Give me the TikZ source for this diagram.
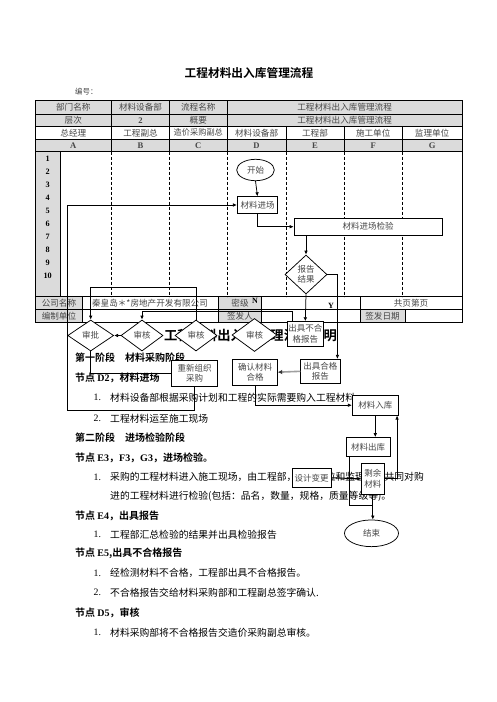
\documentclass[tikz,border=0pt]{standalone}
\usepackage{fontspec}
\setmainfont{Noto Sans CJK SC}[BoldFont={Noto Sans CJK SC Bold}]
\newfontfamily\lat{Liberation Serif}
\usetikzlibrary{shapes.geometric,arrows.meta,calc}
\definecolor{cellgray}{gray}{0.86}
\definecolor{txtgray}{gray}{0.28}
\begin{document}
\begin{tikzpicture}[x=1pt,y=-1pt,
  grid/.style={line width=0.6pt},
  lane/.style={line width=0.6pt,dash pattern=on 3pt off 2pt},
  ttxt/.style={inner sep=0,font=\fontsize{8.6}{9}\selectfont,text=txtgray},
  ftxt/.style={font=\fontsize{8.5}{10.5}\selectfont,text=txtgray},
  fbox/.style={draw,fill=white,line width=0.75pt,inner sep=0,align=center,ftxt},
  fdia/.style={diamond,draw,fill=white,line width=0.75pt,inner sep=0,align=center,ftxt},
  fell/.style={ellipse,draw,fill=white,line width=0.75pt,inner sep=0,ftxt},
  conn/.style={line width=0.75pt},
  arr/.style={conn,-{Latex[length=4pt,width=3.6pt]}},
  body/.style={anchor=west,inner sep=0,font=\fontsize{9.8}{10}\selectfont},
  head/.style={anchor=west,inner sep=0,font=\bfseries\fontsize{10}{11}\selectfont},
  num/.style={anchor=west,inner sep=0,font=\lat\fontsize{9.8}{10}\selectfont}]
\useasboundingbox (0,0) rectangle (496,702);
\fill[white] (0,0) rectangle (496,702);

% title
\node[inner sep=0,font=\bfseries\fontsize{11.7}{12}\selectfont] (title) at (249,73) {工程材料出入库管理流程};
\node[anchor=west,inner sep=0,font=\fontsize{7.5}{8}\selectfont,text=txtgray] (bh) at (75,92) {编号：};

% header table fills
\fill[cellgray] (35,100.7) rectangle (462,126.7);
\fill[cellgray] (35,139) rectangle (462,151.7);
\fill[cellgray] (35,151.7) rectangle (60.7,296.7);
% bottom table fills
\fill[cellgray] (35,296.7) rectangle (82.7,322.3);
\fill[cellgray] (218.3,296.7) rectangle (261.7,322.3);
\fill[cellgray] (360,309.5) rectangle (405,322.3);

% header grid
\draw[grid] (35,100.7) rectangle (462,322.3);
\foreach \yy in {114.3,126.7,139,151.7,296.7,309.5} \draw[grid] (35,\yy) -- (462,\yy);
\foreach \xx in {111.7,169.3,227.3} \draw[grid] (\xx,100.7) -- (\xx,151.7);
\foreach \xx in {286,344,402.3} \draw[grid] (\xx,126.7) -- (\xx,151.7);
\draw[grid] (60.7,151.7) -- (60.7,296.7);
\foreach \xx in {111.7,169.3,227.3,286,344,402.3} \draw[lane] (\xx,151.7) -- (\xx,296.7);
% bottom grid
\foreach \xx in {82.7,218.3,261.7,360} \draw[grid] (\xx,296.7) -- (\xx,322.3);
\draw[grid] (405,309.5) -- (405,322.3);

% header texts
\node[ttxt] (h11) at (73.3,107.5) {部门名称};
\node[ttxt] (h12) at (140.5,107.5) {材料设备部};
\node[ttxt] (h13) at (198.3,107.5) {流程名称};
\node[ttxt] (h14) at (344.6,107.5) {工程材料出入库管理流程};
\node[ttxt] (h21) at (73.3,120.5) {层次};
\node[ttxt,font=\lat\bfseries\fontsize{8.6}{9}\selectfont] (h22) at (140.5,120.5) {2};
\node[ttxt] (h23) at (198.3,120.5) {概要};
\node[ttxt] (h24) at (344.6,120.5) {工程材料出入库管理流程};
\node[ttxt] (h31) at (73.3,132.8) {总经理};
\node[ttxt] (h32) at (140.5,132.8) {工程副总};
\node[ttxt,font=\fontsize{8.2}{9}\selectfont] (h33) at (198.3,132.8) {造价采购副总};
\node[ttxt] (h34) at (256.6,132.8) {材料设备部};
\node[ttxt] (h35) at (315,132.8) {工程部};
\node[ttxt] (h36) at (373.2,132.8) {施工单位};
\node[ttxt] (h37) at (432.1,132.8) {监理单位};
\foreach \xx/\ll in {73.3/A,140.5/B,198.3/C,256.6/D,315/E,373.2/F,432.1/G}
  \node[ttxt,font=\lat\bfseries\fontsize{8.6}{9}\selectfont] (col\ll) at (\xx,145.3) {\ll};
\foreach \i in {1,...,10}
  \node[ttxt,text=black,font=\lat\bfseries\fontsize{8.2}{9}\selectfont] (r\i) at (47.6,{159+13*(\i-1)}) {\i};

% bottom table texts
\node[ttxt] (b11) at (59,303) {公司名称};
\node[ttxt] (b12) at (150,303) {秦皇岛＊*房地产开发有限公司};
\node[ttxt] (b13) at (240,303) {密级};
\node[ttxt] (b15) at (411,303) {共页第页};
\node[ttxt] (b21) at (59,316) {编制单位};
\node[ttxt] (b23) at (240,316) {签发人};
\node[ttxt] (b25) at (382.5,316) {签发日期};

% body text
\node[inner sep=0,font=\bfseries\fontsize{13.3}{14}\selectfont] (shuoming) at (250.5,335.5) {工程材料出入库管理流程说明};
\node[head] (s1) at (75,357.7) {第一阶段\hspace{10pt}材料采购阶段};
\node[head] (n1) at (75,378.3) {节点 {\lat D2}，材料进场};
\node[num] (i11) at (93.5,397.3) {1.};
\node[body] (t11) at (110,397.3) {材料设备部根据采购计划和工程的实际需要购入工程材料};
\node[num] (i12) at (93.5,418.3) {2.};
\node[body] (t12) at (110,418.3) {工程材料运至施工现场};
\node[head] (s2) at (75,437.7) {第二阶段\hspace{10pt}进场检验阶段};
\node[head] (n2) at (75,457.7) {节点 {\lat E3}，{\lat F3}，{\lat G3}，进场检验。};
\node[num] (i21) at (93.5,477.3) {1.};
\node[body] (t21) at (110,477.3) {采购的工程材料进入施工现场，由工程部，施工单位和监理单位共同对购};
\node[body] (t22) at (110,496) {进的工程材料进行检验(包括：品名，数量，规格，质量等级等)。};
\node[head] (n3) at (75,515.5) {节点 {\lat E4}，出具报告};
\node[num] (i31) at (93.5,534.3) {1.};
\node[body] (t31) at (110,534.3) {工程部汇总检验的结果并出具检验报告};
\node[head] (n4) at (75,553.3) {节点 {\lat E5},出具不合格报告};
\node[num] (i41) at (93.5,573.3) {1.};
\node[body] (t41) at (110,573.3) {经检测材料不合格，工程部出具不合格报告。};
\node[num] (i42) at (93.5,592.3) {2.};
\node[body] (t42) at (110,592.3) {不合格报告交给材料采购部和工程副总签字确认.};
\node[head] (n5) at (75,612.7) {节点 {\lat D5}，审核};
\node[num] (i51) at (93.5,632.7) {1.};
\node[body] (t51) at (110,632.7) {材料采购部将不合格报告交造价采购副总审核。};

% connector coordinates
\coordinate (L1) at (67.3,410.7);
\coordinate (U1) at (90.7,287.3);
\coordinate (U2) at (142,311);
\coordinate (J1) at (372.8,505);

% flow nodes
\node[fell,minimum width=37.6,minimum height=21.4] (start) at (255.5,170) {开始};
\node[fbox,minimum width=40.4,minimum height=16.6] (jc) at (257.5,205) {材料进场};
\node[fbox,minimum width=148.3,minimum height=16.7] (jcjy) at (368.2,226.7) {材料进场检验};
\node[fdia,minimum width=42,minimum height=39] (bgjg) at (306,274.5) {报告\\结果};
\node[fbox,minimum width=36,minimum height=24.3] (bhg) at (305.3,333.8) {出具不合\\格报告};
\node[fbox,minimum width=39.3,minimum height=24] (hg) at (320.4,371.3) {出具合格\\报告};
\node[fbox,minimum width=44.6,minimum height=25.7] (qr) at (255,372.2) {确认材料\\合格};
\node[fbox,minimum width=45.3,minimum height=25.3] (cx) at (194.5,373.5) {重新组织\\采购};
\node[fdia,minimum width=46,minimum height=31] (sp) at (90.7,335.5) {审批};
\node[fdia,minimum width=42,minimum height=31] (shB) at (142,335.5) {审核};
\node[fdia,minimum width=42,minimum height=31] (shC) at (196,335.5) {审核};
\node[fdia,minimum width=45,minimum height=33] (shD) at (254.5,335) {审核};
\node[fbox,minimum width=46,minimum height=20] (rk) at (375.3,405.2) {材料入库};
\node[fbox,minimum width=44,minimum height=19] (ck) at (368,447) {材料出库};
\node[fbox,minimum width=22.3,minimum height=31] (sy) at (372.8,478.8) {剩余\\材料};
\node[fbox,minimum width=38.7,minimum height=18.7] (sjbg) at (311.7,477.8) {设计变更};
\node[fell,minimum width=54,minimum height=26.7] (end) at (371.5,533.3) {结束};

\coordinate (rkR) at ($(rk.south east)+(-1.6,0)$);
\coordinate (hgR) at ($(hg.north east)+(-3,0)$);
\coordinate (bhgL) at ($(bhg.north west)+(5.4,0)$);
\coordinate (ckL) at ($(ck.south west)+(3.3,0)$);

% connectors
\draw[arr] (start.south) -- (jc.north);
\draw[arr] (jc.south) |- (jcjy.west);
\draw[arr] (bgjg.north |- jcjy.south) -- (bgjg.north);
\draw[arr] (bgjg.south) -- (bhg.north);
\draw[arr] (bgjg.east) -| (hgR);
\draw[line width=1.6pt,gray!75,-{Latex[length=4.5pt,width=4.5pt,color=black!80]}] (hg.west) -- (qr.east);
\draw[arr] (qr.south) |- (rk.west);
\draw[arr] (rk.south) -- (rk.south |- ck.north);
\draw[arr] (sy.east) -| (rkR);
\draw[arr,line width=1pt] (sjbg.east) -- (sy.west);
\draw[conn] (ckL) |- (J1);
\draw[arr] (sy.south) -- (sy.south |- end.north);
\draw[arr] (cx.south) |- (L1) |- (jc.west);
\draw[conn] (sp.south) |- (cx.west);
\draw[arr] (shC.north) |- (U1) -- (sp.north);
\draw[arr] (bhgL) |- (U2) -- (shB.north);
\draw[arr] (shB.west) -- (sp.east);

% branch labels
\node[inner sep=0,font=\lat\bfseries\fontsize{8}{9}\selectfont] (lN) at (255,300.5) {N};
\node[inner sep=0,font=\lat\bfseries\fontsize{8}{9}\selectfont] (lY) at (331,306) {Y};
\end{tikzpicture}
\end{document}
